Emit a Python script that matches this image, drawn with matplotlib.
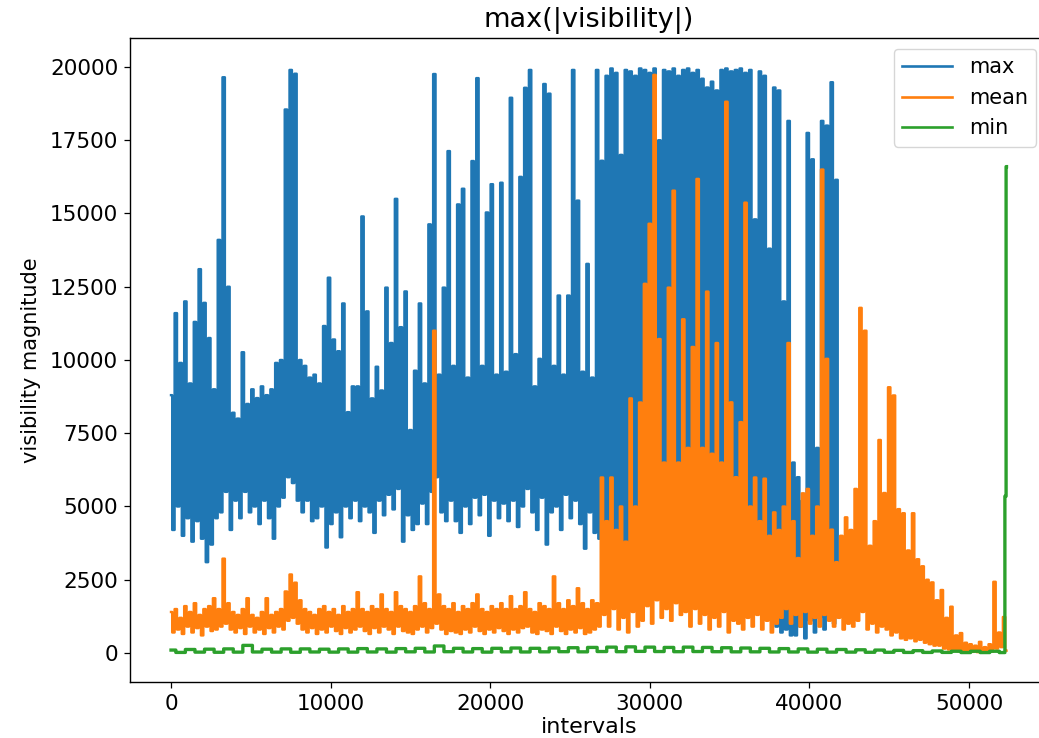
"""Recreate the max(|visibility|) overview plot: max / mean / min per interval."""
import numpy as np
import matplotlib
matplotlib.use("Agg")
import matplotlib.pyplot as plt

# ── Values ─────────────────────────────────────────────────────────────
# Each series is stored as upper / lower readings of the dense trace,
# one pair every STEP intervals (upper at k*STEP, lower half a step later).
STEP = 300

MAX_HI = [
    8800, 11600, 9900, 12000, 9200, 11300, 13100, 11950, 10750, 9000,
    14100, 19650, 12500, 8200, 8000, 10265, 8500, 9000, 8700, 9100,
    8800, 9000, 9900, 10000, 18550, 19900, 19770, 10000, 9800, 9400,
    9500, 9200, 11160, 12810, 10700, 10300, 11930, 8220, 9100, 9100,
    14900, 11660, 8690, 9770, 8960, 12470, 10580, 15500, 11120, 12340,
    7610, 9635, 11930, 9200, 14630, 19760, 9500, 12470, 17130, 9800,
    15310, 15845, 9400, 16790, 19620, 9800, 15035, 16000, 9500, 16050,
    9600, 18950, 10200, 16250, 19290, 19900, 9100, 10040, 19420, 19090,
    9800, 12200, 9500, 12200, 19900, 15440, 9600, 13280, 9400, 19900,
    16800, 19700, 19950, 19800, 17000, 19900, 19850, 19700, 19950, 19900,
    19800, 19950, 17500, 19900, 19850, 19950, 19700, 19900, 19950, 19800,
    19900, 19600, 19300, 19500, 19200, 19900, 19950, 19850, 19900, 19950,
    19800, 19900, 14800, 19850, 19700, 13800, 19300, 19200, 12000, 18160,
    6500, 6000, 5200, 17750, 16850, 7000, 18160, 18000, 19480, 16150,
]
MAX_LO = [
    4200, 5000, 4000, 4600, 3800, 4500, 3900, 3100, 3700, 4600,
    4800, 5500, 4200, 5200, 4600, 5500, 4800, 5000, 4400, 5200,
    4600, 3900, 5000, 5300, 6000, 5800, 5200, 4800, 5200, 4500,
    4600, 5000, 3600, 4400, 4800, 3950, 5000, 4600, 5200, 4500,
    5000, 4800, 4100, 5200, 4700, 5400, 4900, 5600, 3800, 4700,
    4200, 4400, 5100, 4400, 5500, 6000, 4800, 4500, 5200, 4500,
    4100, 5000, 4400, 5300, 4700, 5400, 4000, 5200, 4600, 5100,
    4500, 5200, 4300, 5000, 5600, 4800, 4200, 5300, 3700, 4800,
    5000, 4200, 5400, 4600, 5200, 4400, 3560, 4800, 4100, 3900,
    3800, 3200, 4000, 3500, 3000, 3800, 3300, 2900, 3600, 3100,
    3500, 2800, 3300, 2600, 3100, 2900, 3400, 2700, 3200, 3000,
    3300, 2800, 3500, 3000, 3200, 2700, 3400, 2900, 3100, 2600,
    3000, 2500, 2800, 2300, 2600, 1200, 900, 700, 800, 600,
    600, 900, 500, 1100, 700, 1200, 800, 1300, 1000, 1500,
]

MEAN_HI = [
    1400, 1500, 1200, 1600, 1400, 1700, 1300, 1500, 1600, 1870,
    1500, 3220, 1700, 1400, 1300, 1500, 1870, 1300, 1200, 1400,
    1870, 1300, 1400, 1500, 2100, 2680, 2400, 1800, 1500, 1400,
    1300, 1500, 1600, 1400, 1500, 1300, 1600, 1400, 1500, 2075,
    1500, 1400, 1600, 1500, 2000, 1500, 1400, 2075, 1600, 1500,
    1400, 1600, 2615, 1700, 1500, 11000, 2000, 1600, 1500, 1700,
    1400, 1600, 1500, 1700, 2000, 1500, 1400, 1600, 1500, 1700,
    1500, 1940, 1500, 1600, 2075, 1500, 1400, 1700, 1600, 1500,
    2615, 1700, 1500, 1800, 1600, 2210, 1700, 1500, 1800, 1700,
    5990, 4500, 5990, 4200, 5000, 3800, 8690, 5000, 8550, 12600,
    14650, 19730, 10715, 6500, 12470, 15780, 6500, 11390, 7000, 10445,
    16180, 7000, 12335, 6800, 10580, 6500, 18815, 8555, 6000, 7880,
    15370, 5000, 5990, 4500, 5950, 4000, 4800, 4200, 5000, 10580,
    4500, 3240, 5450, 5600, 4000, 5000, 16500, 10040, 4210, 3100,
    4000, 4630, 4200, 5600, 11780, 11000, 3660, 4500, 7270, 5460,
    9070, 8790, 4910, 4770, 3500, 4770, 3200, 2960, 2500, 2410,
    1800, 2150, 1200, 1580, 600, 680, 350, 300, 250, 380,
    200, 300, 2430, 700, 1230,
]
MEAN_LO = [
    700, 800, 650, 900, 700, 850, 600, 900, 750, 800,
    900, 1000, 800, 700, 850, 650, 900, 700, 800, 650,
    850, 700, 900, 800, 1100, 1200, 1000, 800, 700, 850,
    650, 800, 700, 900, 750, 650, 850, 700, 800, 900,
    750, 650, 850, 700, 900, 800, 650, 900, 750, 700,
    650, 800, 900, 700, 850, 1000, 800, 650, 750, 700,
    650, 800, 700, 900, 750, 650, 800, 700, 850, 750,
    650, 800, 700, 850, 900, 700, 650, 800, 750, 650,
    900, 750, 650, 800, 700, 850, 650, 700, 800, 900,
    1300, 900, 1500, 800, 1200, 700, 1400, 900, 1100, 1600,
    1000, 1800, 1200, 1500, 1100, 1700, 1300, 1400, 900, 1500,
    1000, 1300, 800, 1200, 900, 1400, 700, 1100, 1000, 800,
    1200, 900, 1300, 800, 1100, 700, 1000, 1200, 1500, 1000,
    1300, 900, 1400, 1000, 1200, 900, 1300, 1100, 900, 1200,
    800, 1000, 900, 1100, 1400, 800, 1000, 700, 900, 800,
    600, 700, 500, 450, 500, 400, 450, 350, 300, 250,
    250, 150, 120, 80, 60, 50, 40, 40, 30, 30,
    40, 50, 150, 200, 80,
]

# min is read more coarsely (flat near zero) plus the jump at the very end
MIN_STEP = 1200
MIN_HI = [
    100, 120, 130, 140, 260, 130, 140, 140, 130, 140,
    150, 140, 150, 160, 240, 160, 150, 160, 170, 160,
    170, 180, 190, 200, 210, 200, 190, 200, 190, 180,
    170, 160, 150, 140, 130, 120, 110, 100, 90, 80,
    70, 60, 60, 60,
]
MIN_LO = [
    20, 30, 25, 30, 35, 30, 25, 35, 30, 30,
    35, 30, 40, 35, 45, 35, 30, 40, 35, 40,
    45, 40, 50, 45, 55, 50, 45, 50, 45, 40,
    40, 35, 35, 30, 30, 30, 25, 25, 20, 20,
    20, 15, 15, 15,
]
MIN_TAIL_X = [52300, 52350]
MIN_TAIL = [5350, 16600]


def zigzag(hi, lo, step):
    """Interleave upper / lower readings into one trace."""
    y = np.empty(2 * len(hi))
    y[0::2] = hi
    y[1::2] = lo
    x = np.arange(len(y)) * (step / 2)
    return x, y


# ── Plot ───────────────────────────────────────────────────────────────
fig = plt.figure(figsize=(10.39, 7.38), dpi=100)
# axes run slightly past the right border, as in the cropped reference
ax = fig.add_axes([130 / 1039, 1 - 682.3 / 738, 917.5 / 1039, 644.6 / 738])

x_max, y_max = zigzag(MAX_HI, MAX_LO, STEP)
x_mean, y_mean = zigzag(MEAN_HI, MEAN_LO, STEP)
x_min, y_min = zigzag(MIN_HI, MIN_LO, MIN_STEP)
x_min = np.concatenate([x_min, MIN_TAIL_X])
y_min = np.concatenate([y_min, MIN_TAIL])

# dense traces: vertical strokes between readings read like the original
style = dict(drawstyle="steps-mid", snap=False)
ax.plot(x_max, y_max, color="#1f77b4", linewidth=1.75, label="max", **style)
ax.plot(x_mean, y_mean, color="#ff7f0e", linewidth=1.75, label="mean", **style)
ax.plot(x_min, y_min, color="#2ca02c", linewidth=2.4, label="min", **style)

ax.set_xlim(-2570, 54920)
ax.set_ylim(-1000, 21000)
ax.set_xticks([0, 10000, 20000, 30000, 40000, 50000])
ax.set_yticks([0, 2500, 5000, 7500, 10000, 12500, 15000, 17500, 20000])

ax.set_title("max(|visibility|)", fontsize=19.5, pad=8)
ax.set_xlabel("intervals", fontsize=16, labelpad=2)
ax.set_ylabel("visibility magnitude", fontsize=15, labelpad=6)
ax.tick_params(labelsize=15.5, length=4.5, width=0.9, pad=4)
for sp in ax.spines.values():
    sp.set_linewidth(1.0)

leg = ax.legend(loc="upper right", fontsize=15, labelspacing=0.5,
                handlelength=2.4, borderaxespad=0.55)
for line in leg.get_lines():
    line.set_linewidth(1.9)

fig.savefig("out.png", dpi=100)
